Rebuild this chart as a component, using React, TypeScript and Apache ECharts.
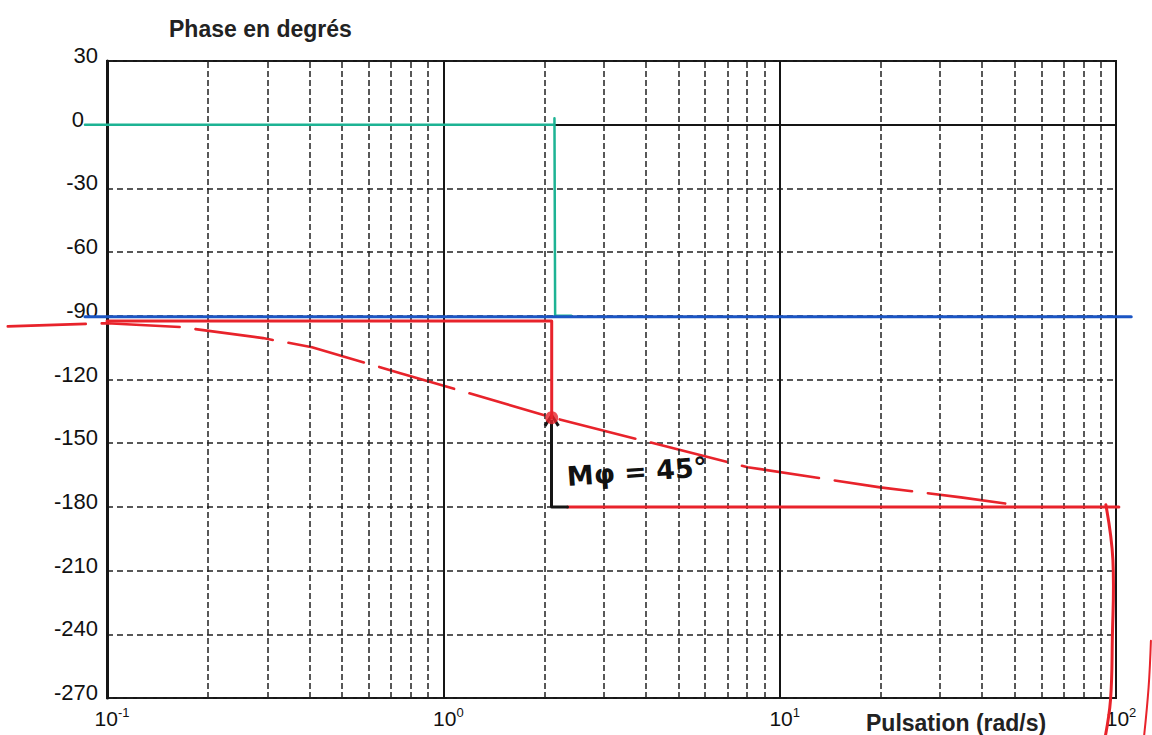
import React, { useEffect, useRef } from "react";
import * as echarts from "echarts";

// ---- data ----
const yMin = -270;
const yMax = 30;
const yStep = 30;
const xMin = 0.1;
const xMax = 100;
const decadeLines = [1, 10];
const minorGridX = [
  0.2, 0.3, 0.4, 0.5, 0.6, 0.7, 0.8, 0.9,
  2, 3, 4, 5, 6, 7, 8, 9,
  20, 30, 40, 50, 60, 70, 80, 90,
];
// green trace (printed)
const greenTrace: number[][] = [
  [0.086, 0], [2.14, 0], [2.14, 3], [2.15, -90], [2.4, -90],
];
// blue trace (printed, -90°)
const blueTrace: number[][] = [
  [0.086, -90.5], [111, -90.5],
];
// red hand-drawn asymptotic diagram
const redLow: number[][] = [
  [0.1, -92.5], [2.1, -92.5], [2.1, -138],
];
const redHigh: number[][] = [
  [2.34, -180], [102, -180],
];
const redDrop: number[][] = [
  [93.3, -179], [97.9, -205], [97.5, -243], [96.3, -271], [92.7, -289],
];
const redEdge: number[][] = [
  [127, -243], [125, -265], [121, -289],
];
// red hand-drawn real phase curve (dashed)
const redCurve: number[][] = [
  [0.0507, -95], [0.1, -93.5], [0.165, -95.3], [0.291, -100.5], [0.407, -104.8],
  [0.745, -117], [2.12, -138], [8.03, -161.3], [19.9, -170.8], [34.6, -175.5], [48.6, -178.8],
];
const redDot: number[][] = [[2.1, -138]];
const arrowFrom = [2.1, -180];
const arrowTo = [2.1, -139];
const blackFoot: number[][] = [[2.1, -180], [2.34, -180]];
const marginText = "Mφ = 45°";

const RED = "#e8232b";
const GREEN = "#1db394";
const BLUE = "#1b55c4";
const INK = "#151515";
const FONT = "Liberation Sans, Arial, sans-serif";

export default function App() {
  const ref = useRef<HTMLDivElement>(null);
  useEffect(() => {
    if (!ref.current) return;
    const chart = echarts.init(ref.current, undefined, { renderer: "svg" });
    // a trace drawn as one polyline through the axis scales (not clipped to the frame,
    // hand-drawn strokes run past it on the scanned sheet)
    const trace = (name: string, pts: number[][], color: string, width: number, z: number, opts: any = {}) => ({
      name,
      type: "custom",
      data: pts,
      z,
      silent: true,
      clip: false,
      renderItem: (params: any, api: any) => {
        if (params.dataIndex !== 0) return null;
        const points = pts.map((p) => api.coord(p));
        return {
          type: "polyline",
          shape: { points, smooth: opts.smooth || 0 },
          style: {
            stroke: color,
            lineWidth: width,
            fill: null,
            lineDash: opts.dash || null,
            lineCap: "round",
            lineJoin: "round",
          },
        };
      },
    });
    chart.setOption({
      animation: false,
      title: [
        {
          text: "Phase en degrés",
          left: 164,
          top: 12,
          textStyle: { fontSize: 23, fontWeight: "bold", fontFamily: FONT, color: "#222" },
        },
        {
          text: "Pulsation (rad/s)",
          left: 861,
          top: 706,
          textStyle: { fontSize: 23, fontWeight: "bold", fontFamily: FONT, color: "#222" },
        },
      ],
      grid: {
        left: 107,
        right: 36,
        top: 61,
        bottom: 37,
        show: true,
        borderColor: INK,
        borderWidth: 2,
        backgroundColor: "transparent",
      },
      xAxis: {
        type: "log",
        logBase: 10,
        min: xMin,
        max: xMax,
        axisLine: { show: true, lineStyle: { color: INK, width: 2 } },
        axisTick: { show: false },
        splitLine: { show: false },
        minorTick: { show: false },
        axisLabel: {
          margin: 8,
          color: "#111",
          fontFamily: FONT,
          formatter: (v: number) => {
            const e = Math.round(Math.log10(v));
            return `{b|10}{s|${e}}`;
          },
          rich: {
            b: { fontSize: 21, fontFamily: FONT, color: "#111", padding: [0, 0, 0, 10] },
            s: { fontSize: 13, fontFamily: FONT, color: "#111", padding: [0, 0, 11, 0] },
          },
        },
      },
      yAxis: {
        type: "value",
        min: yMin,
        max: yMax,
        interval: yStep,
        axisLine: { show: true, lineStyle: { color: INK, width: 3 } },
        axisTick: { show: false },
        axisLabel: {
          margin: 9,
          fontSize: 22,
          color: "#111",
          fontFamily: FONT,
          verticalAlign: "bottom",
          lineHeight: 11,
          formatter: (v: number) => (v === 0 ? "{z|0}" : String(v)),
          rich: {
            z: { fontSize: 22, fontFamily: FONT, color: "#111", padding: [0, 14, 0, 0], lineHeight: 11 },
          },
        },
        splitLine: { show: true, lineStyle: { color: "#222", width: 1.5, type: [6, 4] } },
      },
      graphic: [
        {
          type: "text",
          x: 566,
          y: 463,
          rotation: 0.07,
          style: {
            text: marginText,
            fontSize: 27,
            fontWeight: "bold",
            fontFamily: "DejaVu Sans, sans-serif",
            fill: "#111",
          },
          z: 20,
        },
      ],
      series: [
        {
          type: "line",
          data: [[0.1, -270], [100, -270]],
          showSymbol: false,
          symbol: "none",
          lineStyle: { opacity: 0, width: 0 },
          z: 1,
          silent: true,
          markLine: {
            silent: true,
            symbol: ["none", "none"],
            label: { show: false },
            animation: false,
            data: [
              ...minorGridX.map((v) => ({
                xAxis: v,
                lineStyle: { color: "#222", width: 1.5, type: [6, 3] },
              })),
              ...decadeLines.map((v) => ({
                xAxis: v,
                lineStyle: { color: INK, width: 2, type: "solid" },
              })),
              { yAxis: 0, lineStyle: { color: INK, width: 1.8, type: "solid" } },
            ],
          },
        },
        trace("curve", redCurve, RED, 2.6, 4, { dash: [78, 16] }),
        trace("green", greenTrace, GREEN, 2.5, 5),
        trace("redLow", redLow, RED, 3, 5),
        trace("blue", blueTrace, BLUE, 3, 6),
        trace("redHigh", redHigh, RED, 3, 5),
        trace("redDrop", redDrop, RED, 3, 5, { smooth: 0.4 }),
        trace("redEdge", redEdge, RED, 2, 5, { smooth: 0.4 }),
        trace("foot", blackFoot, INK, 3, 6),
        {
          type: "line",
          data: [],
          z: 7,
          silent: true,
          markLine: {
            silent: true,
            animation: false,
            label: { show: false },
            symbol: ["none", "path://M5,0 L10,8 L8.4,9.2 L5,3.2 L1.6,9.2 L0,8 Z"],
            symbolSize: [16, 14],
            lineStyle: { color: INK, width: 3, type: "solid" },
            data: [[{ coord: arrowFrom }, { coord: arrowTo }]],
          },
        },
        {
          type: "scatter",
          data: redDot,
          symbolSize: 13,
          itemStyle: { color: RED },
          z: 8,
          silent: true,
        },
      ],
    });
    return () => chart.dispose();
  }, []);
  return (
    <div
      ref={ref}
      style={{ position: "fixed", left: 0, top: 0, width: 1152, height: 735, background: "#fff" }}
    />
  );
}
